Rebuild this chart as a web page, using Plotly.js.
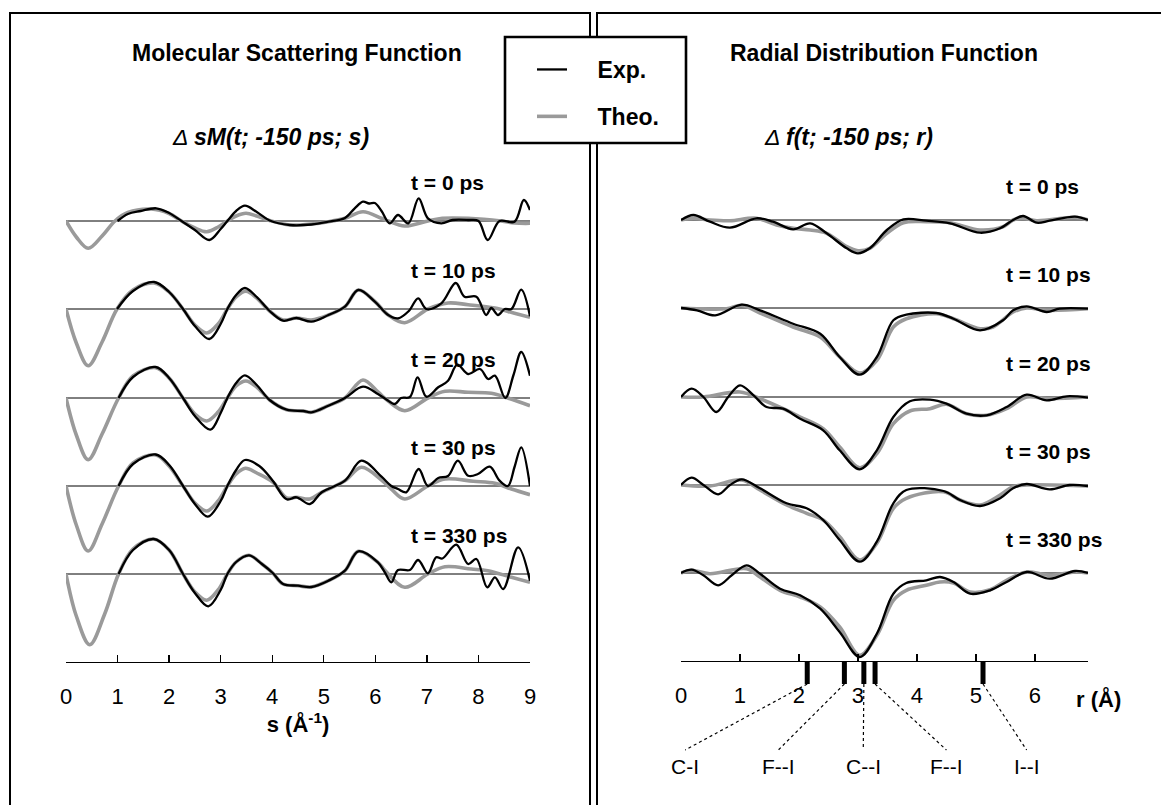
<!DOCTYPE html>
<html>
<head>
<meta charset="utf-8">
<script src="https://cdn.plot.ly/plotly-3.0.1.min.js"></script>
<style>html,body{margin:0;padding:0;background:#fff;}</style>
</head>
<body>
<div id="chart" style="width:1161px;height:805px;"></div>
<script>
// ---------------- DATA ----------------
const timeLabels = ['t = 0 ps', 't = 10 ps', 't = 20 ps', 't = 30 ps', 't = 330 ps'];
const rowOffsets = [0, -8.8, -17.7, -26.5, -35.3];   // vertical stacking of the five delays
const sTicks = [0, 1, 2, 3, 4, 5, 6, 7, 8, 9];
const rTicks = [0, 1, 2, 3, 4, 5, 6];
const sMax = 9;
const rMax = 6.9;

// Molecular scattering function  ΔsM(t; -150 ps; s)
const smTheoS0 = [0,0.2,0.43,0.7,0.95,1.2,1.65,2.0,2.24,2.5,2.73,2.95,3.13,3.3,3.49,3.7,3.95,4.34,4.76,5.09,5.41,5.76,6.12,6.25,6.57,7.02,7.3,7.8,8.44,8.7,9.0];
const smTheoV0 = [0,-1.6,-2.73,-1.5,0,0.85,1.2,0.75,0,-0.7,-1.07,-0.6,0,0.5,0.77,0.5,0.05,-0.4,-0.3,-0.07,0.27,0.93,0.27,0,-0.5,0,0.27,0.27,0,-0.2,-0.23];
const smExpS0 = [1.0,1.2,1.45,1.75,2.0,2.24,2.5,2.78,3.0,3.13,3.3,3.47,3.7,3.95,4.34,4.76,5.09,5.41,5.6,5.76,5.88,5.99,6.12,6.28,6.44,6.64,6.84,7.02,7.28,7.5,7.8,8.0,8.18,8.41,8.7,8.88,9.0];
const smExpV0 = [0,0.7,1.0,1.27,0.8,0,-0.9,-1.9,-0.8,0,1.0,1.53,0.9,0.05,-0.4,-0.35,-0.07,0.3,1.27,1.93,1.75,1.8,1.0,-0.23,0.6,-0.23,2.27,0.27,-0.23,0.1,0.1,0,-1.9,0,-0.07,2.1,1.1];

const smTheoS1 = [0,0.2,0.43,0.7,0.99,1.3,1.71,2.0,2.27,2.5,2.73,2.95,3.13,3.3,3.49,3.7,3.95,4.21,4.47,4.76,5.09,5.41,5.67,5.99,6.25,6.57,7.02,7.41,7.8,8.32,8.7,9.0];
const smTheoV1 = [0,-3.4,-5.67,-3.3,0,1.9,2.6,1.7,0,-1.6,-2.4,-1.5,0,1.2,1.77,1.1,-0.2,-1.1,-0.9,-1.1,-0.6,0.23,1.9,0.75,-0.6,-1.37,0,0.6,0.43,0.1,-0.43,-0.83];
const smExpS1 = [0.99,1.3,1.71,2.0,2.27,2.5,2.78,3.0,3.13,3.3,3.47,3.7,3.95,4.21,4.47,4.76,5.09,5.41,5.67,5.99,6.25,6.44,6.65,6.83,6.99,7.28,7.56,7.73,7.96,8.15,8.25,8.38,8.51,8.64,8.83,9.0];
const smExpV1 = [0,1.8,2.7,1.7,0,-1.7,-3.0,-1.5,0,1.4,2.1,1.2,-0.2,-1.17,-0.9,-1.27,-0.6,0.23,1.9,0.73,-0.6,-0.93,-0.2,1.07,0,0.57,2.6,1.23,1.23,-0.6,0.1,-0.6,0,0,1.93,-0.73];

const smTheoS2 = [0,0.2,0.43,0.7,1.02,1.3,1.74,2.0,2.27,2.5,2.73,2.95,3.13,3.3,3.49,3.7,3.95,4.28,4.6,4.76,5.09,5.41,5.76,6.05,6.25,6.57,7.02,7.35,7.8,8.25,8.57,9.0];
const smTheoV2 = [0,-3.7,-6.17,-3.6,0,2.2,3.03,2.0,0,-1.6,-2.3,-1.4,0,1.2,1.7,1.1,-0.2,-1.17,-1.3,-1.43,-0.77,0,1.8,0.6,-0.3,-1.27,0,0.67,0.57,0.47,0,-0.77];
const smExpS2 = [1.02,1.3,1.74,2.0,2.27,2.5,2.8,3.0,3.13,3.3,3.47,3.7,3.95,4.28,4.6,4.76,5.09,5.41,5.76,6.05,6.2,6.38,6.5,6.67,6.82,6.99,7.22,7.41,7.59,7.8,8.03,8.19,8.32,8.52,8.68,8.83,9.0];
const smExpV2 = [0,2.1,3.1,2.0,0,-1.8,-3.17,-1.5,0,1.5,2.27,1.3,-0.2,-1.17,-1.3,-1.43,-0.77,0,1.13,0.4,-0.1,-0.6,0,0.1,2.07,0.13,1.07,1.73,3.33,2.4,2.9,1.9,2.23,0,2.3,4.6,2.23];

const smTheoS3 = [0,0.2,0.43,0.7,1.02,1.3,1.74,2.0,2.27,2.5,2.73,2.95,3.13,3.3,3.48,3.7,4.01,4.28,4.47,4.73,4.96,5.41,5.73,6.12,6.31,6.57,7.02,7.35,7.9,8.32,8.64,9.0];
const smTheoV3 = [0,-3.9,-6.5,-3.8,0,2.3,3.1,2.0,0,-1.7,-2.5,-1.5,0,1.2,1.77,1.3,0.4,-1.2,-1.13,-1.3,-0.63,0.53,1.87,0.6,-0.3,-1.3,0,0.7,0.47,0.27,-0.3,-0.87];
const smExpS3 = [1.02,1.3,1.74,2.0,2.27,2.5,2.75,3.0,3.13,3.3,3.47,3.75,4.01,4.28,4.47,4.73,4.96,5.41,5.73,6.12,6.31,6.44,6.6,6.84,7.02,7.22,7.41,7.6,7.8,7.99,8.22,8.41,8.57,8.7,8.83,9.0];
const smExpV3 = [0,2.2,3.15,2.1,0,-1.8,-3.07,-1.5,0,1.6,2.6,2.0,0.53,-1.33,-1.13,-1.8,-0.63,0.53,2.53,0.93,0,-0.3,-0.63,1.7,0,0.8,1.0,2.53,1.03,1.2,1.93,0.53,0,1.9,3.87,0];

const smTheoS4 = [0,0.2,0.46,0.75,1.02,1.3,1.7,2.0,2.27,2.5,2.73,2.95,3.13,3.3,3.55,3.8,4.01,4.21,4.5,4.76,5.09,5.41,5.67,6.05,6.18,6.57,7.02,7.35,7.86,8.18,8.64,9.0];
const smTheoV4 = [0,-4.2,-7.07,-4.0,0,2.5,3.5,2.4,0,-1.8,-2.63,-1.6,0,1.2,1.87,1.0,0.1,-1.0,-1.17,-1.3,-0.67,0.33,2.27,1.17,0.4,-1.33,0,0.73,0.5,0.33,-0.33,-0.83];
const smExpS4 = [1.02,1.3,1.7,2.0,2.27,2.5,2.76,3.0,3.13,3.3,3.55,3.8,4.01,4.21,4.5,4.76,5.09,5.41,5.67,6.05,6.18,6.31,6.44,6.67,6.83,7.02,7.18,7.3,7.57,7.8,7.96,8.17,8.32,8.48,8.77,9.0];
const smExpV4 = [0,2.4,3.5,2.4,0,-1.9,-3.23,-1.6,0,1.2,1.87,1.0,0.1,-1.0,-1.17,-1.3,-0.67,0.33,2.27,1.17,0.2,-0.83,0.4,0.4,1.4,0.07,1.67,1.55,2.93,1.0,1.5,-1.33,-0.33,-1.5,2.67,-0.67];

// Radial distribution function  Δf(t; -150 ps; r)
const rdfTheoR0 = [0,0.21,0.49,0.83,1.28,1.62,1.9,2.19,2.47,2.81,3.0,3.2,3.49,3.77,4.16,4.56,5.07,5.46,5.63,5.8,6.03,6.68,6.9];
const rdfTheoV0 = [0,0.17,0,-0.07,0.17,-0.5,-0.83,-1.0,-1.33,-2.67,-3.07,-2.83,-1.33,-0.27,-0.17,-0.27,-1.0,-0.67,0,0.17,-0.07,0.27,0];
const rdfExpR0 = [0,0.21,0.49,0.83,1.28,1.56,1.9,2.19,2.47,2.81,3.0,3.2,3.49,3.77,4.16,4.56,5.07,5.41,5.63,5.8,6.03,6.25,6.68,6.9];
const rdfExpV0 = [0,0.5,-0.17,-0.77,0.17,-0.17,-0.93,-0.33,-1.33,-2.83,-3.33,-2.83,-1.0,0.07,-0.07,-0.33,-1.27,-0.83,0,0.4,-0.27,-0.07,0.33,0];

const rdfTheoR1 = [0,0.27,0.77,1.03,1.34,1.9,2.36,2.69,3.03,3.32,3.6,3.82,4.33,4.62,5.07,5.29,5.63,5.86,6.2,6.9];
const rdfTheoV1 = [0,-0.07,-0.07,0.27,-0.5,-1.9,-2.9,-4.9,-6.5,-5.23,-1.9,-1.07,-0.57,-1.07,-2.07,-1.9,-0.4,0,-0.23,-0.07];
const rdfExpR1 = [0,0.27,0.58,1.03,1.34,1.9,2.36,2.69,3.03,3.32,3.6,3.82,4.33,4.62,5.07,5.46,5.63,5.86,6.2,6.42,6.9];
const rdfExpV1 = [0,-0.23,-0.73,0.33,-0.23,-1.57,-2.57,-4.9,-6.67,-4.9,-1.23,-0.67,-0.5,-1.07,-2.23,-1.23,-0.23,0.17,-0.4,-0.07,-0.07];

const rdfTheoR2 = [0,0.38,1.0,1.34,1.73,2.02,2.41,2.69,3.03,3.32,3.6,3.88,4.22,4.5,4.84,5.18,5.52,5.86,6.2,6.9];
const rdfTheoV2 = [0,0,0.5,-0.17,-1.17,-2.0,-3.17,-5.0,-7.07,-5.67,-2.67,-1.4,-1.17,-0.73,-1.67,-1.83,-1.17,0,-0.17,0];
const rdfExpR2 = [0,0.18,0.38,0.6,0.8,1.0,1.23,1.45,1.73,2.02,2.41,2.69,3.03,3.32,3.6,3.88,4.22,4.5,4.84,5.18,5.52,5.86,6.2,6.54,6.9];
const rdfExpV2 = [0,0.83,0,-1.5,0,1.17,0.17,-1.0,-1.17,-2.17,-3.33,-5.33,-7.23,-5.33,-2.0,-0.43,-0.27,-0.67,-1.67,-1.83,-1.0,0.23,-0.33,0.07,-0.07];

const rdfTheoR3 = [0,0.49,1.03,1.34,1.79,2.13,2.41,2.69,3.03,3.32,3.6,3.82,4.45,4.73,5.07,5.41,5.63,5.86,6.9];
const rdfTheoV3 = [0,-0.1,0.5,-0.5,-2.0,-2.83,-3.5,-5.17,-7.5,-5.83,-2.33,-1.33,-0.67,-1.5,-2.0,-1.0,-0.17,0,-0.1];
const rdfExpR3 = [0,0.18,0.38,0.63,0.83,1.03,1.34,1.79,2.13,2.41,2.69,3.03,3.32,3.6,3.82,4.45,4.73,5.07,5.41,5.63,5.86,6.25,6.59,6.9];
const rdfExpV3 = [0,0.73,0,-0.93,0,0.57,-0.33,-1.83,-2.33,-3.5,-5.5,-7.67,-5.67,-1.83,-0.5,-0.6,-1.5,-2.1,-1.33,-0.33,0.1,-0.43,0,-0.1];

const rdfTheoR4 = [0,0.18,0.49,1.11,1.34,1.68,2.02,2.36,2.69,3.03,3.32,3.6,3.82,4.16,4.39,4.62,4.9,5.24,5.52,5.86,6.25,6.68,6.9];
const rdfTheoV4 = [0,0.27,-0.07,0.43,-0.4,-1.73,-2.4,-3.4,-5.4,-8.23,-6.23,-2.73,-1.73,-1.23,-0.9,-1.0,-1.9,-1.67,-0.73,0.1,-0.23,0.1,0];
const rdfExpR4 = [0,0.18,0.38,0.63,0.86,1.11,1.34,1.68,2.02,2.36,2.69,3.03,3.32,3.6,3.82,4.16,4.39,4.62,4.9,5.24,5.52,5.86,6.25,6.68,6.9];
const rdfExpV4 = [0,0.33,-0.23,-1.23,-0.23,0.77,-0.07,-1.57,-2.23,-3.57,-5.9,-8.4,-6.07,-2.07,-1.0,-0.73,-0.4,-0.9,-2.07,-1.73,-0.9,0.1,-0.57,0.2,0];

// Interatomic distances marked under the r axis
const bondLabels = ['C-I', 'F--I', 'C--I', 'F--I', 'I--I'];
const bondR = [2.14, 2.77, 3.1, 3.29, 5.12];
const bondLabelR = [0.07, 1.65, 3.09, 4.5, 5.86];

// ---------------- BUILD ----------------
const W = 1161, H = 805;
const FONT = '"Liberation Sans", Arial, Helvetica, sans-serif';
const px = v => v / W;
const py = v => 1 - v / H;
const GAP = '\u00a0\u00a0\u00a0\u00a0';   // spacing between legend sample and text

const smTheoS = [smTheoS0, smTheoS1, smTheoS2, smTheoS3, smTheoS4];
const smTheoV = [smTheoV0, smTheoV1, smTheoV2, smTheoV3, smTheoV4];
const smExpS = [smExpS0, smExpS1, smExpS2, smExpS3, smExpS4];
const smExpV = [smExpV0, smExpV1, smExpV2, smExpV3, smExpV4];
const rdfTheoR = [rdfTheoR0, rdfTheoR1, rdfTheoR2, rdfTheoR3, rdfTheoR4];
const rdfTheoV = [rdfTheoV0, rdfTheoV1, rdfTheoV2, rdfTheoV3, rdfTheoV4];
const rdfExpR = [rdfExpR0, rdfExpR1, rdfExpR2, rdfExpR3, rdfExpR4];
const rdfExpV = [rdfExpV0, rdfExpV1, rdfExpV2, rdfExpV3, rdfExpV4];

const traces = [];
function addPanel(xa, ya, xmax, thX, thY, exX, exY, withLegend) {
  rowOffsets.forEach((off) => {
    traces.push({type: 'scatter', mode: 'lines', x: [0, xmax], y: [off, off],
      xaxis: xa, yaxis: ya, line: {color: '#000', width: 1},
      hoverinfo: 'skip', showlegend: false});
  });
  rowOffsets.forEach((off, i) => {
    traces.push({type: 'scatter', mode: 'lines', name: GAP + '<b>Theo.</b>',
      x: thX[i], y: thY[i].map(v => v + off), xaxis: xa, yaxis: ya,
      line: {color: '#9a9a9a', width: 3.6, shape: 'spline', smoothing: 1},
      legendgroup: 'theo', legendrank: 2, showlegend: withLegend && i === 0});
  });
  rowOffsets.forEach((off, i) => {
    traces.push({type: 'scatter', mode: 'lines', name: GAP + '<b>Exp.</b>',
      x: exX[i], y: exY[i].map(v => v + off), xaxis: xa, yaxis: ya,
      line: {color: '#000', width: 2.3, shape: 'spline', smoothing: 1},
      legendgroup: 'exp', legendrank: 1, showlegend: withLegend && i === 0});
  });
}
addPanel('x', 'y', sMax, smTheoS, smTheoV, smExpS, smExpV, true);
addPanel('x2', 'y2', rMax, rdfTheoR, rdfTheoV, rdfExpR, rdfExpV, false);

const shapes = [
  {type: 'rect', xref: 'paper', yref: 'paper', x0: px(10), x1: px(590), y0: py(13), y1: py(840),
   line: {color: '#000', width: 2}, layer: 'above'},
  {type: 'rect', xref: 'paper', yref: 'paper', x0: px(597), x1: px(1185), y0: py(13), y1: py(840),
   line: {color: '#000', width: 2}, layer: 'above'},
  {type: 'rect', xref: 'paper', yref: 'paper', x0: px(505), x1: px(686), y0: py(37), y1: py(143),
   fillcolor: '#fff', line: {color: '#000', width: 2.6}, layer: 'above'}
];
bondR.forEach((r, i) => {
  shapes.push({type: 'line', xref: 'x2', yref: 'paper', x0: r, x1: r, y0: py(661), y1: py(684),
    line: {color: '#000', width: 5}});
  shapes.push({type: 'line', xref: 'x2', yref: 'paper', x0: r, x1: bondLabelR[i], y0: py(684), y1: py(750),
    line: {color: '#000', width: 1.2, dash: 'dot'}});
});

const annotations = [
  {text: '<b>Molecular Scattering Function</b>', xref: 'paper', yref: 'paper', x: px(297), y: py(53),
   showarrow: false, font: {size: 23}, xanchor: 'center', yanchor: 'middle'},
  {text: '<b>Radial Distribution Function</b>', xref: 'paper', yref: 'paper', x: px(884), y: py(53),
   showarrow: false, font: {size: 23}, xanchor: 'center', yanchor: 'middle'},
  {text: '<i>Δ <b>sM(t; -150 ps; s)</b></i>', xref: 'paper', yref: 'paper', x: px(270), y: py(137),
   showarrow: false, font: {size: 23}, xanchor: 'center', yanchor: 'middle'},
  {text: '<i>Δ <b>f(t; -150 ps; r)</b></i>', xref: 'paper', yref: 'paper', x: px(848), y: py(137),
   showarrow: false, font: {size: 23}, xanchor: 'center', yanchor: 'middle'},
  {text: '<b>r (Å)</b>', xref: 'paper', yref: 'paper', x: px(1098), y: py(699),
   showarrow: false, font: {size: 22}, xanchor: 'center', yanchor: 'middle'}
];
timeLabels.forEach((t, i) => {
  annotations.push({text: '<b>' + t + '</b>', xref: 'paper', yref: 'y', x: px(409), y: rowOffsets[i] + 3.9,
    showarrow: false, font: {size: 21}, xanchor: 'left', yanchor: 'middle'});
  annotations.push({text: '<b>' + t + '</b>', xref: 'paper', yref: 'y2', x: px(1004), y: rowOffsets[i] + 3.4,
    showarrow: false, font: {size: 21}, xanchor: 'left', yanchor: 'middle'});
});
bondLabels.forEach((b, i) => {
  annotations.push({text: b, xref: 'x2', yref: 'paper', x: bondLabelR[i], y: py(766),
    showarrow: false, font: {size: 21}, xanchor: 'center', yanchor: 'middle'});
});

const axisCommon = {
  showline: true, linecolor: '#000', linewidth: 1.3, ticks: 'inside', ticklen: 7,
  tickwidth: 1.3, tickcolor: '#000', tickfont: {size: 22, color: '#000'},
  ticklabelstandoff: 14, showgrid: false, zeroline: false, fixedrange: true
};

const layout = {
  width: W, height: H, margin: {l: 0, r: 0, t: 0, b: 0},
  paper_bgcolor: '#fff', plot_bgcolor: 'rgba(0,0,0,0)',
  font: {family: FONT, color: '#000'},
  showlegend: true,
  legend: {x: px(532), y: py(48), xanchor: 'left', yanchor: 'top',
           bgcolor: 'rgba(0,0,0,0)', borderwidth: 0, tracegroupgap: 14,
           font: {size: 23, family: FONT, color: '#000'}},
  xaxis: Object.assign({}, axisCommon, {
    domain: [px(66), px(530)], range: [0, sMax], anchor: 'y', tickvals: sTicks,
    title: {text: '<b>s (Å<sup>-1</sup>)</b>', font: {size: 22}, standoff: 8}}),
  yaxis: {domain: [py(662), py(150)], range: [-44.1, 7.1], visible: false, fixedrange: true},
  xaxis2: Object.assign({}, axisCommon, {
    domain: [px(681), px(1088)], range: [0, rMax], anchor: 'y2', tickvals: rTicks}),
  yaxis2: {domain: [py(661), py(150)], range: [-44.1, 7.0], visible: false, anchor: 'x2', fixedrange: true},
  shapes: shapes,
  annotations: annotations
};

Plotly.newPlot('chart', traces, layout, {displayModeBar: false, staticPlot: true});
</script>
</body>
</html>
